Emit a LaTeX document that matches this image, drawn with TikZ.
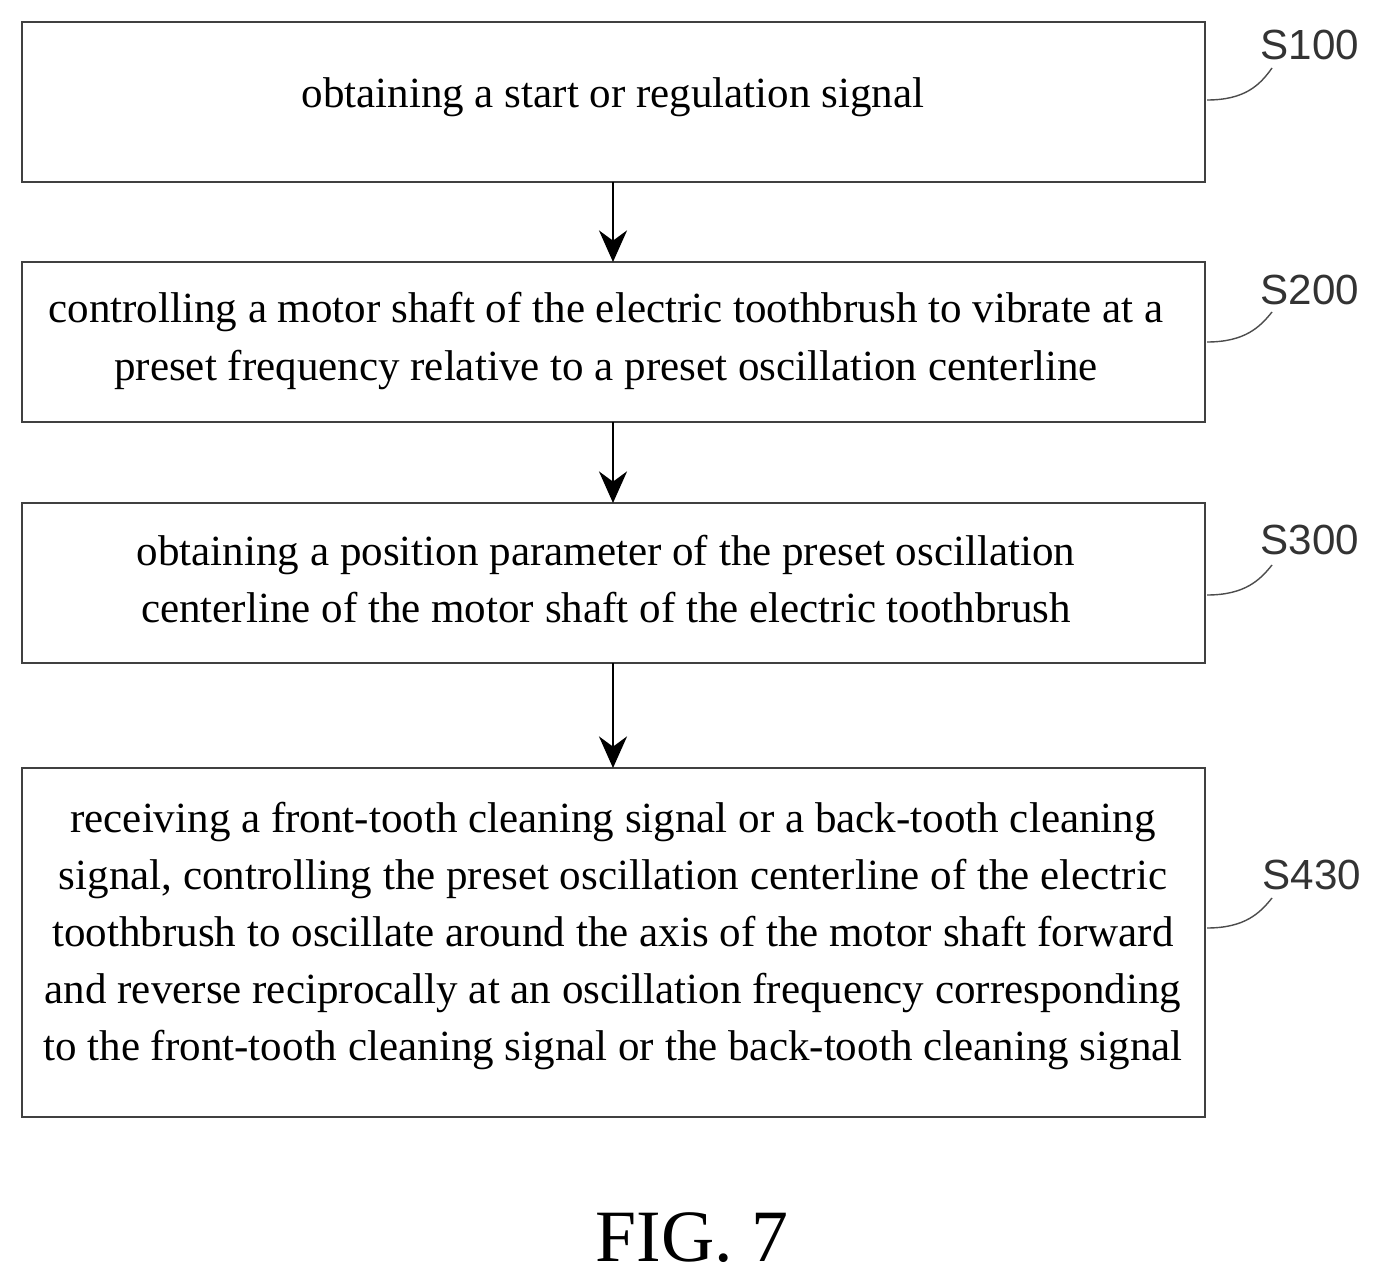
\documentclass[tikz,border=0pt]{standalone}
\usepackage{fontspec}
\setmainfont{Liberation Serif}
\newfontfamily\lblfont{Liberation Sans}
\usetikzlibrary{arrows.meta}
\begin{document}
\begin{tikzpicture}[x=0.02cm,y=-0.02cm,
  box/.style={draw=black!75,line width=1.2pt,inner sep=0pt},
  txt/.style={align=center,font=\fontsize{24.5}{32.5}\selectfont},
  lbl/.style={font=\lblfont\fontsize{24}{24}\selectfont,text=black!80},
  arr/.style={-{Stealth[length=18pt,width=16pt]},line width=1pt},
  lead/.style={line width=0.8pt,black!70}]
\useasboundingbox (0,0) rectangle (1387,1284);
\draw[box] (22,22) rectangle (1205,182); \node[txt] (t1) at (613,97) {obtaining a start or regulation signal};
\draw[box] (22,262) rectangle (1205,422); \node[txt] (t2) at (606,341) {controlling a motor shaft of the electric toothbrush to vibrate at a\\preset frequency relative to a preset oscillation centerline};
\draw[box] (22,503) rectangle (1205,663); \node[txt] (t3) at (606,579) {obtaining a position parameter of the preset oscillation\\centerline of the motor shaft of the electric toothbrush};
\draw[box] (22,768) rectangle (1205,1117); \node[txt] (t4) at (613,936) {receiving a front-tooth cleaning signal or a back-tooth cleaning\\signal, controlling the preset oscillation centerline of the electric\\toothbrush to oscillate around the axis of the motor shaft forward\\and reverse reciprocally at an oscillation frequency corresponding\\to the front-tooth cleaning signal or the back-tooth cleaning signal};
\coordinate (b1) at (613,182); \coordinate (a2) at (613,262);
\coordinate (b2) at (613,422); \coordinate (a3) at (613,503);
\coordinate (b3) at (613,663); \coordinate (a4) at (613,768);
\draw[arr] (b1) -- (a2); \draw[arr] (b2) -- (a3); \draw[arr] (b3) -- (a4);
\node[lbl] (l1) at (1310,45) {S100};
\node[lbl] (l2) at (1310,290) {S200};
\node[lbl] (l3) at (1310,540) {S300};
\node[lbl] (l4) at (1312,875) {S430};
\coordinate (e1) at (1207,100); \coordinate (e2) at (1207,342); \coordinate (e3) at (1207,595); \coordinate (e4) at (1207,928);
\draw[lead] (e1) .. controls (1245,100) and (1260,85) .. (1272,68);
\draw[lead] (e2) .. controls (1245,342) and (1260,327) .. (1272,312);
\draw[lead] (e3) .. controls (1245,595) and (1260,580) .. (1272,565);
\draw[lead] (e4) .. controls (1245,928) and (1260,913) .. (1272,898);
\node[font=\fontsize{42}{42}\selectfont] (fig) at (692,1238) {FIG. 7};
\end{tikzpicture}
\end{document}
